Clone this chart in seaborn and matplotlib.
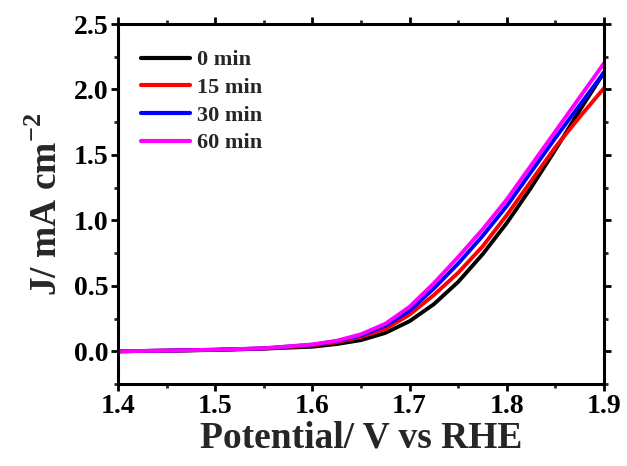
import numpy as np
import pandas as pd
import matplotlib
matplotlib.use("Agg")
import matplotlib.pyplot as plt
import seaborn as sns
from matplotlib.ticker import MultipleLocator, FormatStrFormatter

potential = [1.40, 1.45, 1.50, 1.55, 1.60, 1.625, 1.65, 1.675, 1.70, 1.725,
             1.75, 1.775, 1.80, 1.825, 1.85, 1.875, 1.90]
j_0min = [0.0, 0.004, 0.010, 0.020, 0.035, 0.055, 0.085, 0.14, 0.23, 0.36,
          0.53, 0.74, 0.98, 1.25, 1.54, 1.84, 2.13]
j_15min = [0.0, 0.005, 0.011, 0.021, 0.045, 0.07, 0.11, 0.17, 0.28, 0.43,
           0.60, 0.80, 1.04, 1.30, 1.56, 1.79, 2.01]
j_30min = [0.0, 0.005, 0.012, 0.022, 0.05, 0.077, 0.12, 0.195, 0.31, 0.48,
           0.67, 0.88, 1.11, 1.37, 1.63, 1.88, 2.13]
j_60min = [0.0, 0.005, 0.012, 0.023, 0.052, 0.08, 0.13, 0.21, 0.34, 0.52,
           0.72, 0.93, 1.16, 1.42, 1.68, 1.94, 2.20]
labels = ["0 min", "15 min", "30 min", "60 min"]
colors = ["#000000", "#ff0000", "#0000ff", "#ff00ff"]

frames = []
for lab, vals in zip(labels, [j_0min, j_15min, j_30min, j_60min]):
    frames.append(pd.DataFrame({"Potential": potential, "J": vals, "time": lab}))
df = pd.concat(frames, ignore_index=True)

sns.set_style("ticks")
plt.rcParams['font.family'] = ['Liberation Serif', 'DejaVu Serif']
plt.rcParams['font.weight'] = 'bold'
plt.rcParams['mathtext.fontset'] = 'custom'
plt.rcParams['mathtext.rm'] = 'Liberation Serif:bold'
plt.rcParams['mathtext.bf'] = 'Liberation Serif:bold'

fig = plt.figure(figsize=(6.27, 4.66), dpi=100)
ax = fig.add_axes([118/627, 1-384/466, (604-118)/627, (384-24)/466])

sns.lineplot(data=df, x="Potential", y="J", hue="time", hue_order=labels,
             palette=colors, linewidth=2.8, ax=ax, legend=True)

ax.set_xlim(1.4, 1.9)
ax.set_ylim(-0.25, 2.5)
ax.xaxis.set_major_locator(MultipleLocator(0.1))
ax.xaxis.set_minor_locator(MultipleLocator(0.05))
ax.yaxis.set_major_locator(MultipleLocator(0.5))
ax.yaxis.set_minor_locator(MultipleLocator(0.25))
ax.xaxis.set_major_formatter(FormatStrFormatter('%.1f'))
ax.yaxis.set_major_formatter(FormatStrFormatter('%.1f'))

for s in ax.spines.values():
    s.set_visible(True)
    s.set_linewidth(2.2)
    s.set_color('black')

ax.tick_params(axis='both', which='major', direction='out', length=5, width=2,
               labelsize=20, pad=2, colors='black')
ax.tick_params(axis='both', which='minor', direction='out', length=3, width=2)
ax.tick_params(axis='y', which='both', right=True, labelright=False)
ax.tick_params(axis='x', which='both', top=True, labeltop=False)
for lab in ax.get_xticklabels() + ax.get_yticklabels():
    lab.set_fontweight('bold')

ax.set_xlabel("Potential/ V vs RHE", fontsize=27, fontweight='bold', labelpad=1)
ax.set_ylabel(r"J/ mA cm$^{\mathbf{-2}}$", fontsize=27, fontweight='bold', labelpad=6)

leg = ax.legend(loc='upper left', bbox_to_anchor=(0.02, 0.965), frameon=False,
                prop={'family': 'Liberation Serif', 'weight': 'bold', 'size': 16},
                handlelength=2.2, handletextpad=0.3, labelspacing=0.32,
                borderaxespad=0.2)
for h in leg.get_lines():
    h.set_linewidth(3)

fig.savefig("out.png", dpi=100)
